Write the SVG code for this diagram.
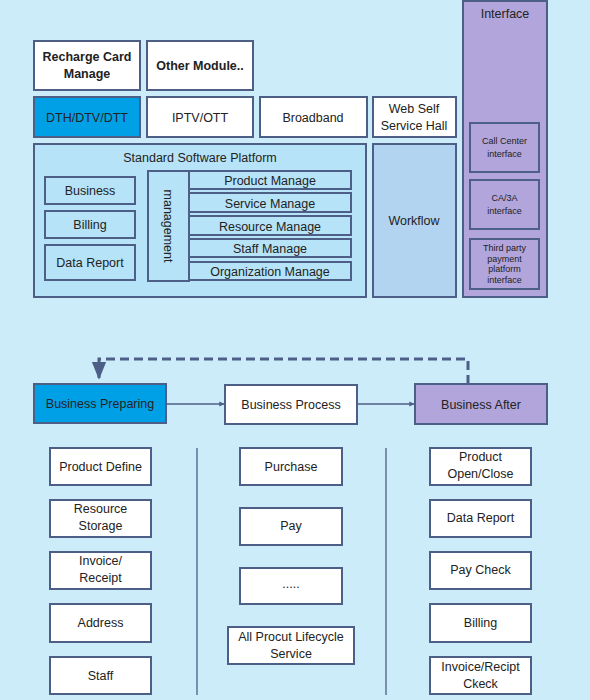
<svg xmlns="http://www.w3.org/2000/svg" width="590" height="700" viewBox="0 0 590 700">
<defs>
<style>
.b{stroke:#4d5f86;stroke-width:2}
.w{fill:#ffffff}
.t{font-family:"Liberation Sans",Arial,sans-serif;font-size:12.5px;fill:#222;text-anchor:middle}
.s{font-size:9px}
.bd{font-weight:bold}
</style>
<marker id="ah" viewBox="0 0 10 10" refX="9" refY="5" markerWidth="6" markerHeight="6" orient="auto"><path d="M0,1 L10,5 L0,9 z" fill="#4d5f86"/></marker>
<marker id="ah2" viewBox="0 0 10 10" refX="9" refY="5" markerWidth="4" markerHeight="4" orient="auto"><path d="M0,0 L10,5 L0,10 z" fill="#4d5f86"/></marker>
</defs>
<rect width="590" height="700" fill="#cdecfa"/>

<g id="recharge"><rect class="b w" x="34" y="41" width="106" height="49"/><text class="t bd" x="87" y="61">Recharge Card</text><text class="t bd" x="87" y="78">Manage</text></g>
<g id="other"><rect class="b w" x="147" y="41" width="106" height="49"/><text class="t bd" x="200" y="70">Other Module..</text></g>
<g id="dth"><rect class="b" fill="#00a0e6" x="34" y="97" width="106" height="40"/><text class="t" x="87" y="122">DTH/DTV/DTT</text></g>
<g id="iptv"><rect class="b w" x="147" y="97" width="106" height="40"/><text class="t" x="200" y="122">IPTV/OTT</text></g>
<g id="broadband"><rect class="b w" x="260" y="97" width="107" height="40"/><text class="t" x="313" y="122">Broadband</text></g>
<g id="webself"><rect class="b w" x="373" y="97" width="83" height="40"/><text class="t" x="414" y="113">Web Self</text><text class="t" x="414" y="130">Service Hall</text></g>

<g id="interface"><rect class="b" fill="#b2a5db" x="463" y="1" width="84" height="296"/><text class="t" x="505" y="18">Interface</text></g>
<g id="callcenter"><rect class="b" fill="#b2a5db" x="470" y="123" width="69" height="49"/><text class="t s" x="504.5" y="144">Call Center</text><text class="t s" x="504.5" y="157">interface</text></g>
<g id="ca3a"><rect class="b" fill="#b2a5db" x="470" y="180" width="69" height="49"/><text class="t s" x="504.5" y="201">CA/3A</text><text class="t s" x="504.5" y="214">interface</text></g>
<g id="thirdparty"><rect class="b" fill="#b2a5db" x="470" y="239" width="69" height="50"/><text class="t s" x="504.5" y="251">Third party</text><text class="t s" x="504.5" y="261.5">payment</text><text class="t s" x="504.5" y="272">platform</text><text class="t s" x="504.5" y="282.5">interface</text></g>

<g id="platform"><rect class="b" fill="#b7e3f8" x="34" y="144" width="332" height="153"/><text class="t" x="200" y="162">Standard Software Platform</text></g>
<g id="workflow"><rect class="b" fill="#b2d4f0" x="373" y="144" width="83" height="153"/><text class="t" x="414" y="225">Workflow</text></g>
<g id="business"><rect class="b" fill="#b7e3f8" x="45" y="177" width="90" height="27"/><text class="t" x="90" y="195">Business</text></g>
<g id="billing1"><rect class="b" fill="#b7e3f8" x="45" y="211" width="90" height="27"/><text class="t" x="90" y="229">Billing</text></g>
<g id="datareport1"><rect class="b" fill="#b7e3f8" x="45" y="245" width="90" height="35"/><text class="t" x="90" y="267">Data Report</text></g>
<g id="management"><rect class="b" fill="#b7e3f8" x="148" y="171" width="41" height="110"/><text class="t" transform="translate(164,226) rotate(90)" x="0" y="0">management</text></g>
<g id="productmanage"><rect class="b" fill="#b7e3f8" x="189" y="171" width="162" height="18"/><text class="t" x="270" y="185">Product Manage</text></g>
<g id="servicemanage"><rect class="b" fill="#b7e3f8" x="189" y="193" width="162" height="19"/><text class="t" x="270" y="207.5">Service Manage</text></g>
<g id="resourcemanage"><rect class="b" fill="#b7e3f8" x="189" y="216" width="162" height="19"/><text class="t" x="270" y="230.5">Resource Manage</text></g>
<g id="staffmanage"><rect class="b" fill="#b7e3f8" x="189" y="239" width="162" height="18"/><text class="t" x="270" y="253">Staff Manage</text></g>
<g id="orgmanage"><rect class="b" fill="#b7e3f8" x="189" y="262" width="162" height="18"/><text class="t" x="270" y="276">Organization Manage</text></g>

<g id="connectors" fill="none" stroke="#4d5f86">
<path d="M468,384 V359 H99 V378" stroke-width="3" stroke-dasharray="9,5" marker-end="url(#ah)"/>
<line x1="166" y1="404" x2="224" y2="404" stroke-width="1.3" marker-end="url(#ah2)"/>
<line x1="357" y1="404" x2="414" y2="404" stroke-width="1.3" marker-end="url(#ah2)"/>
<line x1="197" y1="448" x2="197" y2="695" stroke-width="1.3"/>
<line x1="386" y1="448" x2="386" y2="695" stroke-width="1.3"/>
</g>

<g id="bprep"><rect class="b" fill="#00a0e6" x="34" y="384" width="132" height="39"/><text class="t" x="100" y="408">Business Preparing</text></g>
<g id="bproc"><rect class="b w" x="225" y="385" width="132" height="39"/><text class="t" x="291" y="409">Business Process</text></g>
<g id="bafter"><rect class="b" fill="#b2a5db" x="415" y="384" width="132" height="40"/><text class="t" x="481" y="409">Business After</text></g>

<g id="productdefine"><rect class="b w" x="50" y="448" width="101" height="37"/><text class="t" x="100.5" y="471">Product Define</text></g>
<g id="resourcestorage"><rect class="b w" x="50" y="500" width="101" height="37"/><text class="t" x="100.5" y="513">Resource</text><text class="t" x="100.5" y="530">Storage</text></g>
<g id="invoicereceipt"><rect class="b w" x="50" y="552" width="101" height="37"/><text class="t" x="100.5" y="565">Invoice/</text><text class="t" x="100.5" y="582">Receipt</text></g>
<g id="address"><rect class="b w" x="50" y="604" width="101" height="38"/><text class="t" x="100.5" y="627">Address</text></g>
<g id="staff"><rect class="b w" x="50" y="657" width="101" height="37"/><text class="t" x="100.5" y="680">Staff</text></g>

<g id="purchase"><rect class="b w" x="240" y="448" width="102" height="37"/><text class="t" x="291" y="471">Purchase</text></g>
<g id="pay"><rect class="b w" x="240" y="508" width="102" height="37"/><text class="t" x="291" y="530">Pay</text></g>
<g id="dots"><rect class="b w" x="240" y="568" width="102" height="36"/><text class="t" x="291" y="588">.....</text></g>
<g id="alllifecycle"><rect class="b w" x="228" y="627" width="126" height="37"/><text class="t" x="291" y="641">All Procut Lifecycle</text><text class="t" x="291" y="658">Service</text></g>

<g id="productopenclose"><rect class="b w" x="430" y="448" width="101" height="37"/><text class="t" x="480.5" y="461">Product</text><text class="t" x="480.5" y="478">Open/Close</text></g>
<g id="datareport2"><rect class="b w" x="430" y="500" width="101" height="37"/><text class="t" x="480.5" y="522">Data Report</text></g>
<g id="paycheck"><rect class="b w" x="430" y="552" width="101" height="37"/><text class="t" x="480.5" y="574">Pay Check</text></g>
<g id="billing2"><rect class="b w" x="430" y="604" width="101" height="38"/><text class="t" x="480.5" y="627">Billing</text></g>
<g id="invoicereciptckeck"><rect class="b w" x="430" y="657" width="101" height="37"/><text class="t" x="480.5" y="671">Invoice/Recipt</text><text class="t" x="480.5" y="688">Ckeck</text></g>
</svg>
